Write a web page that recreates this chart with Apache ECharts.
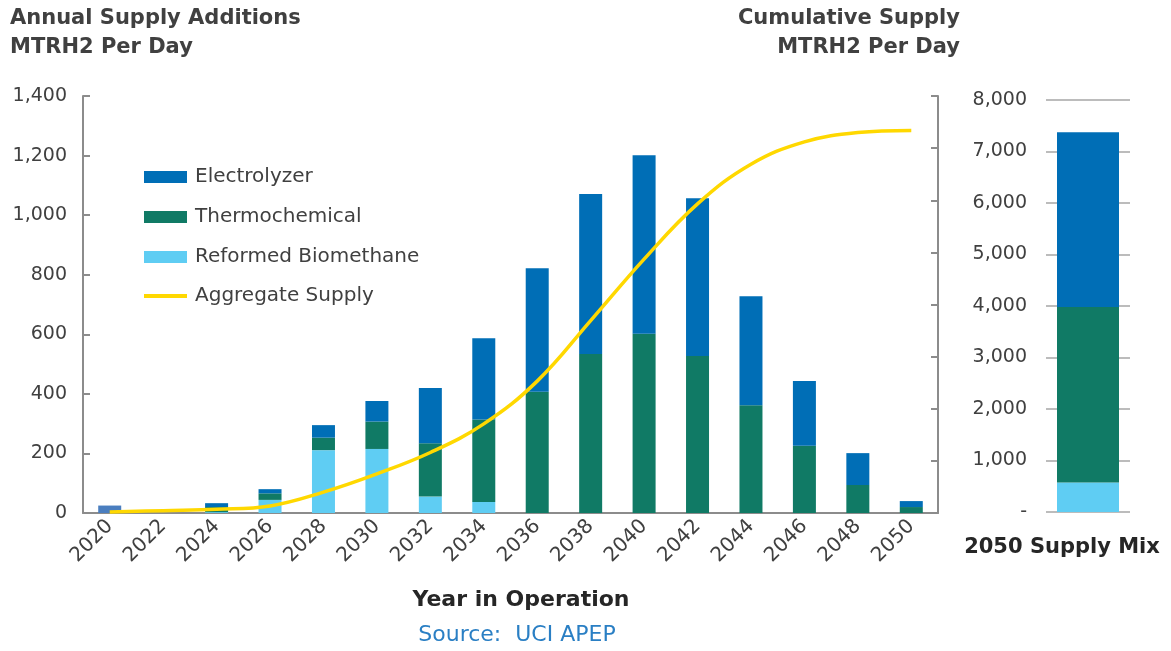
<!DOCTYPE html>
<html>
<head>
<meta charset="utf-8">
<script src="https://cdn.jsdelivr.net/npm/echarts@6/dist/echarts.min.js"></script>
<style>
  html, body { margin: 0; padding: 0; background: #fff; }
  #chart { width: 1171px; height: 651px; }
</style>
</head>
<body>
<div id="chart"></div>
<script>
// years on the x axis
var years = ['2020','2022','2024','2026','2028','2030','2032','2034','2036','2038','2040','2042','2044','2046','2048','2050'];

// annual additions, MTRH2 per day
var reformed      = [0, 0, 3, 44, 211, 215, 55, 37, 0, 0, 0, 0, 0, 0, 0, 0];
var thermochem    = [0, 0, 17, 22, 42, 92, 179, 277, 407, 534, 602, 527, 362, 226, 94, 20];
var electrolyzer  = [25, 0, 13, 14, 42, 69, 186, 273, 415, 537, 599, 530, 366, 217, 107, 20];

// cumulative (right axis)
var aggregate = [20, 45, 70, 135, 400, 750, 1160, 1710, 2530, 3690, 4870, 5930, 6690, 7120, 7300, 7340];

// 2050 mix panel
var mixReformed = [575];
var mixThermo   = [3405];
var mixElectro  = [3395];

var C_ELEC = '#006eb6', C_THERMO = '#107a65', C_REF = '#5fcdf3', C_AGG = '#ffd800';
var FONT = 'DejaVu Sans';
var AXIS_GRAY = '#8c8c8c';

var chart = echarts.init(document.getElementById('chart'));

function thousands(v) {
    return String(v).replace(/\B(?=(\d{3})+(?!\d))/g, ',');
}

var legendText = { fontFamily: FONT, fontSize: 20, color: '#404040', padding: [0, 0, 0, 3] };

chart.setOption({
    animation: false,
    textStyle: { fontFamily: FONT },
    grid: [
        { left: 83, right: 233, top: 96, bottom: 138 },
        { left: 1046, width: 84, top: 100, bottom: 139 }
    ],
    legend: [
        {
            orient: 'vertical', left: 144, top: 167, padding: 0,
            itemWidth: 43, itemHeight: 12, itemGap: 20,
            textStyle: legendText,
            data: [
                { name: 'Electrolyzer', icon: 'rect' },
                { name: 'Thermochemical', icon: 'rect' },
                { name: 'Reformed Biomethane', icon: 'rect' }
            ]
        },
        {
            orient: 'vertical', left: 144, top: 286, padding: 0,
            itemWidth: 43, itemHeight: 4,
            textStyle: legendText,
            data: [{ name: 'Aggregate Supply', icon: 'rect' }]
        }
    ],
    xAxis: [
        {
            type: 'category', gridIndex: 0, data: years,
            axisLine: { lineStyle: { color: AXIS_GRAY, width: 2 } },
            axisTick: { show: false },
            axisLabel: { rotate: 45, margin: 10, fontSize: 20, color: '#404040', fontFamily: FONT }
        },
        {
            type: 'category', gridIndex: 1, data: ['2050'],
            axisLine: { show: false }, axisTick: { show: false }, axisLabel: { show: false }
        }
    ],
    yAxis: [
        {
            type: 'value', gridIndex: 0, min: 0, max: 1400, interval: 200,
            axisLine: { show: true, lineStyle: { color: AXIS_GRAY, width: 2 } },
            axisTick: { show: true, inside: true, length: 7, lineStyle: { color: AXIS_GRAY, width: 2 } },
            splitLine: { show: false },
            axisLabel: { margin: 16, fontSize: 19, color: '#404040', fontFamily: FONT, formatter: thousands }
        },
        {
            type: 'value', gridIndex: 0, position: 'right', min: 0, max: 8000, interval: 1000,
            axisLine: { show: true, lineStyle: { color: AXIS_GRAY, width: 2 } },
            axisTick: { show: true, inside: true, length: 7, lineStyle: { color: AXIS_GRAY, width: 2 } },
            splitLine: { show: false },
            axisLabel: { show: false }
        },
        {
            type: 'value', gridIndex: 1, min: 0, max: 8000, interval: 1000,
            axisLine: { show: false }, axisTick: { show: false },
            splitLine: { show: true, lineStyle: { color: '#a6a6a6', width: 1.5 } },
            axisLabel: { margin: 19, fontSize: 19, color: '#404040', fontFamily: FONT,
                formatter: function (v) { return v === 0 ? '-' : thousands(v); } }
        }
    ],
    series: [
        { name: 'Reformed Biomethane', type: 'bar', stack: 'a', barWidth: 23, data: reformed, itemStyle: { color: C_REF } },
        { name: 'Thermochemical', type: 'bar', stack: 'a', data: thermochem, itemStyle: { color: C_THERMO } },
        { name: 'Electrolyzer', type: 'bar', stack: 'a',
            data: electrolyzer.map(function (v, i) { return i === 0 ? { value: v, itemStyle: { color: '#4a7ebf' } } : v; }),
            itemStyle: { color: C_ELEC } },
        { name: 'Aggregate Supply', type: 'line', yAxisIndex: 1, data: aggregate, smooth: 0.4,
            symbol: 'none', lineStyle: { color: C_AGG, width: 3.5 }, itemStyle: { color: C_AGG }, z: 5 },

        { name: 'Reformed Biomethane', type: 'bar', xAxisIndex: 1, yAxisIndex: 2, stack: 'm', barWidth: 62, data: mixReformed, itemStyle: { color: C_REF } },
        { name: 'Thermochemical', type: 'bar', xAxisIndex: 1, yAxisIndex: 2, stack: 'm', data: mixThermo, itemStyle: { color: C_THERMO } },
        { name: 'Electrolyzer', type: 'bar', xAxisIndex: 1, yAxisIndex: 2, stack: 'm', data: mixElectro, itemStyle: { color: C_ELEC } }
    ],
    graphic: [
        { type: 'text', x: 10, y: 19, style: { text: 'Annual Supply Additions', font: 'bold 21px ' + FONT, fill: '#404040', verticalAlign: 'middle' } },
        { type: 'text', x: 10, y: 48, style: { text: 'MTRH2 Per Day', font: 'bold 21px ' + FONT, fill: '#404040', verticalAlign: 'middle' } },
        { type: 'text', x: 960, y: 19, style: { text: 'Cumulative Supply', font: 'bold 21px ' + FONT, fill: '#404040', align: 'right', verticalAlign: 'middle' } },
        { type: 'text', x: 960, y: 48, style: { text: 'MTRH2 Per Day', font: 'bold 21px ' + FONT, fill: '#404040', align: 'right', verticalAlign: 'middle' } },
        { type: 'text', x: 1062, y: 548, style: { text: '2050 Supply Mix', font: 'bold 21px ' + FONT, fill: '#262626', align: 'center', verticalAlign: 'middle' } },
        { type: 'text', x: 521, y: 600, style: { text: 'Year in Operation', font: 'bold 22px ' + FONT, fill: '#262626', align: 'center', verticalAlign: 'middle' } },
        { type: 'text', x: 517, y: 635, style: { text: 'Source:  UCI APEP', font: '22px ' + FONT, fill: '#2a7fc4', align: 'center', verticalAlign: 'middle' } }
    ]
});
</script>
</body>
</html>
